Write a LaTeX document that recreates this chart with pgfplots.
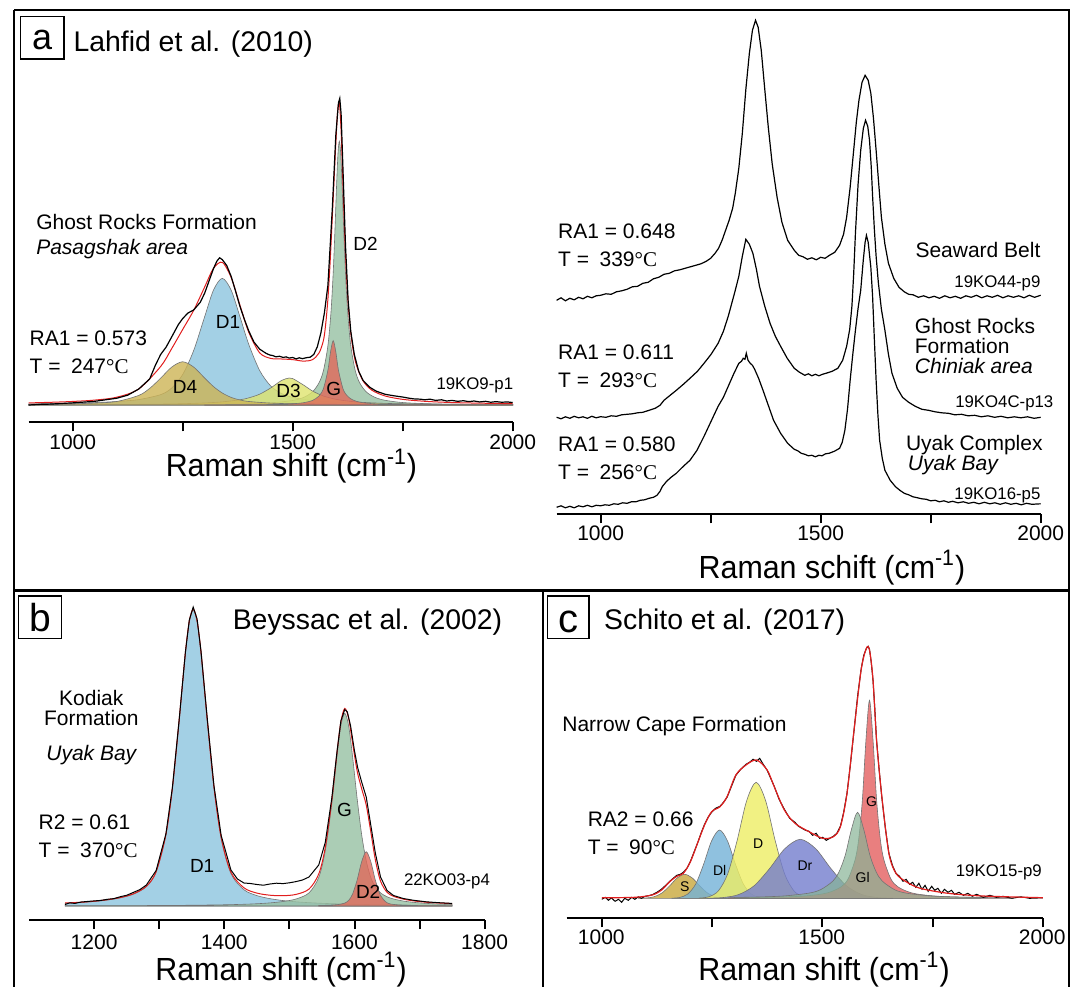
\documentclass[border=0pt]{standalone}
\usepackage{fontspec}
\setmainfont{Liberation Sans}
\newfontfamily\tnr{Liberation Serif}
\usepackage{graphicx}
\usepackage{pgfplots}
\pgfplotsset{compat=1.18}

\definecolor{cDone}{RGB}{140,196,222}
\definecolor{cDfour}{RGB}{205,180,85}
\definecolor{cDthree}{RGB}{222,228,110}
\definecolor{cG}{RGB}{224,105,90}
\definecolor{cDtwo}{RGB}{150,192,162}
\definecolor{cS}{RGB}{200,168,60}
\definecolor{cDl}{RGB}{115,178,215}
\definecolor{cD}{RGB}{238,238,100}
\definecolor{cDr}{RGB}{115,125,205}
\definecolor{cGl}{RGB}{135,180,150}
\definecolor{cGc}{RGB}{228,95,95}
\definecolor{fitred}{RGB}{225,30,30}

\newcommand{\ann}{\fontsize{10.5}{12}\selectfont}
\newcommand{\ttl}{\fontsize{14.2}{16}\selectfont}
\newcommand{\smp}{\fontsize{8.4}{10}\selectfont}
\newcommand{\bnd}{\fontsize{9.5}{11}\selectfont}
\newcommand{\bndc}{\fontsize{7}{8}\selectfont}
\newcommand{\axl}{\fontsize{16}{18}\selectfont}
\newcommand{\dc}{{\tnr °C}}

\pgfplotsset{
  ramanax/.style={scale only axis, clip=false, axis x line=bottom, axis y line=none,
    axis line style={-,line width=1pt,black}, x axis line style={-},
    tick align=outside, major tick length=4.5pt, minor tick length=4.5pt,
    tick style={black,line width=1pt}, xticklabels={}, ytick=\empty},
  band/.style={smooth, draw=black!55, line width=0.3pt, fill opacity=0.8},
}

\begin{document}
\begin{tikzpicture}
%================ panel a left
\begin{axis}[ramanax, at={(14.35pt,281.85pt)}, anchor=south west, width=242pt, height=165.05pt,
  xmin=900, xmax=2000, ymin=-0.0564, ymax=1.02, xtick={1000,1500,2000}, minor xtick={1250,1750}]
\addplot[band, fill=cDone] coordinates {(900,0.0035)(950,0.0045)(1000,0.0058)(1050,0.0079)(1100,0.0114)(1150,0.0177)(1200,0.0339)(1225,0.0554)(1250,0.0995)(1275,0.178)(1300,0.2884)(1320,0.3748)(1340,0.413)(1360,0.3748)(1380,0.2884)(1400,0.1981)(1425,0.1122)(1450,0.0620)(1475,0.0370)(1500,0.0251)(1525,0.0187)(1560,0.0134)(1600,0.0098)(1650,0.0070)(1700,0.0053)(1800,0.0032)(1900,0.0022)(2000,0.0016)} \closedcycle;
\addplot[band, fill=cDtwo] coordinates {(1300,0.0021)(1400,0.0040)(1450,0.0069)(1500,0.0148)(1525,0.0249)(1545,0.0430)(1560,0.0729)(1570,0.1130)(1580,0.1933)(1587,0.3026)(1592,0.43)(1596,0.5695)(1600,0.7265)(1603,0.822)(1606,0.86)(1609,0.822)(1612,0.7265)(1616,0.5695)(1620,0.43)(1625,0.3026)(1632,0.1933)(1642,0.113)(1652,0.0729)(1667,0.043)(1687,0.0249)(1712,0.0148)(1760,0.0070)(1850,0.0028)(2000,0.0011)} \closedcycle;
\addplot[band, fill=cDthree] coordinates {(900,0.0008)(1000,0.0011)(1100,0.0017)(1200,0.0030)(1250,0.0043)(1300,0.0067)(1340,0.0102)(1380,0.0171)(1400,0.0232)(1425,0.0354)(1450,0.0556)(1475,0.0803)(1492,0.088)(1500,0.0862)(1525,0.0647)(1545,0.0456)(1570,0.0292)(1600,0.0181)(1632,0.0118)(1660,0.0085)(1710,0.0053)(1800,0.0027)(1900,0.0016)(2000,0.0010)} \closedcycle;
\addplot[band, fill=cDfour] coordinates {(900,0.0021)(1000,0.0041)(1050,0.0062)(1100,0.0115)(1150,0.0312)(1175,0.0542)(1200,0.0877)(1225,0.1236)(1250,0.141)(1275,0.1236)(1300,0.0877)(1320,0.0601)(1340,0.0391)(1360,0.0249)(1380,0.0164)(1400,0.0115)(1450,0.0062)(1500,0.0041)(1600,0.0023)(1700,0.0013)(1800,0.0009)(2000,0.0005)} \closedcycle;
\addplot[band, fill=cG] coordinates {(1300,0.0004)(1400,0.0010)(1450,0.0017)(1500,0.0041)(1525,0.0076)(1545,0.0149)(1560,0.0297)(1570,0.0543)(1580,0.1134)(1586,0.1731)(1592,0.21)(1598,0.1731)(1604,0.1134)(1614,0.0543)(1622,0.0332)(1632,0.0201)(1645,0.0119)(1660,0.0074)(1680,0.0045)(1710,0.0025)(1750,0.0014)(1800,0.0008)(1900,0.0004)(2000,0.0002)} \closedcycle;
\addplot[fitred, line width=0.5pt, smooth] coordinates {(900,0.0068)(950,0.0088)(1000,0.0116)(1050,0.0160)(1100,0.0254)(1150,0.0521)(1200,0.1258)(1225,0.1840)(1250,0.2464)(1275,0.3088)(1300,0.3850)(1320,0.4457)(1340,0.4653)(1360,0.4162)(1380,0.3260)(1400,0.2378)(1425,0.170)(1450,0.152)(1475,0.150)(1500,0.148)(1525,0.143)(1545,0.148)(1560,0.170)(1570,0.2114)(1575,0.2643)(1580,0.3452)(1585,0.4636)(1590,0.6120)(1594,0.7334)(1598,0.8522)(1602,0.9566)(1606,0.9853)(1610,0.8941)(1614,0.7284)(1618,0.5626)(1622,0.4298)(1627,0.3126)(1632,0.2348)(1638,0.174)(1645,0.1291)(1660,0.0783)(1680,0.0483)(1710,0.0294)(1750,0.0184)(1800,0.0121)(1850,0.0086)(1900,0.0067)(1950,0.0054)(2000,0.0044)};
\addplot[black, line width=0.6pt] coordinates {(900,0.000)(925,0.002)(950,0.003)(975,0.005)(1000,0.007)(1050,0.012)(1100,0.022)(1125,0.032)(1150,0.052)(1175,0.085)(1188,0.130)(1200,0.165)(1212,0.188)(1225,0.222)(1240,0.262)(1250,0.282)(1262,0.300)(1275,0.310)(1290,0.335)(1300,0.365)(1310,0.405)(1320,0.445)(1328,0.470)(1334,0.480)(1340,0.474)(1350,0.455)(1360,0.420)(1370,0.372)(1380,0.322)(1390,0.280)(1400,0.242)(1412,0.205)(1425,0.182)(1440,0.168)(1448,0.163)(1455,0.161)(1462,0.157)(1470,0.159)(1478,0.155)(1485,0.157)(1492,0.153)(1500,0.155)(1508,0.150)(1515,0.154)(1522,0.151)(1530,0.154)(1540,0.156)(1548,0.165)(1556,0.190)(1564,0.235)(1572,0.300)(1580,0.390)(1590,0.640)(1598,0.880)(1604,0.985)(1607,1.000)(1610,0.950)(1614,0.780)(1620,0.520)(1626,0.340)(1632,0.240)(1640,0.165)(1650,0.110)(1660,0.080)(1675,0.058)(1690,0.045)(1710,0.035)(1730,0.030)(1750,0.026)(1765,0.022)(1775,0.020)(1790,0.019)(1800,0.017)(1812,0.019)(1825,0.015)(1838,0.017)(1850,0.013)(1862,0.015)(1875,0.012)(1888,0.014)(1900,0.011)(1912,0.013)(1925,0.010)(1938,0.012)(1950,0.009)(1962,0.011)(1975,0.009)(1988,0.010)(2000,0.008)};
\end{axis}
%================ panel a right
\begin{axis}[ramanax, at={(278.3pt,235.85pt)}, anchor=south west, width=242.05pt, height=252.5pt,
  xmin=900, xmax=2000, ymin=0, ymax=505, xtick={1000,1500,2000}, minor xtick={1250,1750}]
\addplot[black, line width=0.6pt] coordinates {(900,214)(910,216.5)(920,213.5)(930,216)(940,214.5)(950,217)(960,215.5)(970,218)(980,216.5)(990,218.5)(1000,219)(1012,220.5)(1024,220)(1036,222.5)(1048,223.5)(1060,225)(1072,227.5)(1084,228)(1096,231)(1108,232)(1120,235.5)(1132,237)(1144,240)(1156,241)(1168,243.5)(1180,244.5)(1192,246)(1204,247.5)(1216,249)(1228,250.5)(1240,253)(1250,256)(1260,261)(1268,266)(1276,274)(1284,284)(1292,294)(1300,306)(1306,321)(1314,346)(1322,381)(1330,425)(1338,461)(1345,484)(1352,494)(1358,487)(1365,464)(1373,425)(1381,387)(1390,350)(1401,317)(1412,292)(1425,274)(1440,264)(1450,259)(1460,257.5)(1470,255)(1480,256.5)(1490,254.5)(1500,257)(1510,256)(1520,259)(1532,262)(1543,269)(1552,280)(1559,297)(1567,327)(1575,364)(1581,392)(1587,414)(1594,432)(1601,439)(1608,434)(1614,421)(1620,396)(1626,364)(1632,330)(1638,297)(1646,270)(1654,251)(1666,236)(1678,227)(1690,222.5)(1700,220)(1710,219.5)(1722,217)(1734,218.5)(1746,216.5)(1758,218)(1770,216)(1782,218.5)(1794,216.5)(1806,218)(1818,216)(1830,218.5)(1842,217)(1854,219)(1866,216.5)(1878,218.5)(1890,217)(1902,219)(1914,216.5)(1926,218.5)(1938,217)(1950,218.5)(1962,216.5)(1974,219)(1986,217)(2000,219)};
\addplot[black, line width=0.6pt] coordinates {(900,97)(910,95.5)(920,97.5)(930,96)(940,98)(950,96.5)(960,97.5)(970,96)(980,98)(990,96.5)(1000,97.6)(1012,97)(1024,98.5)(1036,98)(1048,99.5)(1060,100)(1072,100.5)(1084,101.5)(1096,102)(1110,104)(1124,106)(1135,109)(1144,114)(1158,119)(1172,124)(1188,130)(1203,136)(1220,143)(1235,151)(1251,160)(1267,171)(1279,183)(1290,198)(1298,211)(1306,224)(1314,238)(1322,258)(1330,275)(1338,270)(1346,261)(1354,245)(1361,228)(1373,208)(1385,191)(1397,178)(1409,168)(1424,156)(1440,146)(1452,142)(1464,139)(1472,140.5)(1480,138.5)(1488,140)(1496,138.5)(1504,140)(1512,141)(1526,143)(1539,146)(1550,154)(1559,168)(1566,185)(1571,208)(1575,240)(1579,281)(1585,330)(1591,364)(1597,386)(1602,394)(1607,388)(1611,374)(1615,347)(1618,318)(1622,285)(1626,258)(1631,232)(1638,205)(1646,184)(1654,160)(1662,141)(1674,126)(1686,117)(1700,112)(1715,108)(1730,105)(1745,104)(1760,102.5)(1775,101.5)(1790,101)(1805,99.5)(1820,100)(1835,98.5)(1850,99)(1865,97.5)(1880,98.5)(1895,97)(1910,98)(1925,96.5)(1940,97.5)(1955,96.5)(1970,97.5)(1985,96)(2000,97)};
\addplot[black, line width=0.6pt] coordinates {(900,7)(910,8.5)(920,6.5)(930,8)(940,6.5)(950,8.5)(960,7.5)(970,9)(980,7.5)(990,9)(1000,8.5)(1010,9.5)(1020,9)(1030,10.5)(1040,10)(1050,11.5)(1060,11)(1070,12.5)(1080,12.5)(1090,14)(1100,14.5)(1110,16)(1120,17)(1128,19)(1135,23)(1140,27.6)(1150,33)(1160,37)(1172,41)(1188,48)(1203,54)(1219,64)(1235,78)(1251,93)(1267,108)(1279,117)(1290,128)(1302,140)(1314,151)(1320,153)(1324,156)(1328,155)(1331,161)(1335,154)(1340,151)(1345,149)(1350,145)(1359,136)(1369,124)(1381,109)(1393,94)(1409,81)(1425,71)(1440,65)(1448,63.5)(1456,61)(1464,60)(1472,58.5)(1480,59)(1488,57.5)(1496,59)(1503,58.5)(1511,60.5)(1519,61)(1531,63)(1543,66)(1549,72)(1555,84)(1561,105)(1567,134)(1573,160)(1579,184)(1585,206)(1591,224)(1597,255)(1601,272)(1604,279)(1608,272)(1614,247)(1618,218)(1622,175)(1626,134)(1630,100)(1634,74)(1640,56)(1646,44)(1658,34)(1670,27.6)(1680,24)(1690,21)(1700,19.5)(1709,17.6)(1720,16.5)(1730,15.5)(1740,15)(1750,13.5)(1760,14)(1770,12.5)(1780,13.5)(1790,12)(1800,13)(1812,11.5)(1824,12.5)(1836,11)(1848,12)(1860,10.5)(1872,12)(1884,10.5)(1896,11.5)(1908,10)(1920,11.5)(1932,10)(1944,11)(1956,9.5)(1968,11)(1980,10)(2000,10.5)};
\end{axis}
%================ panel b
\begin{axis}[ramanax, at={(14.65pt,33pt)}, anchor=south west, width=227.65pt, height=157pt,
  xmin=1100, xmax=1800, ymin=-14, ymax=300, xtick={1200,1400,1600,1800}, minor xtick={1300,1500,1700}]
\addplot[band, fill=cDone] coordinates {(1155,2.73)(1180,3.56)(1200,4.53)(1220,5.94)(1240,8.13)(1260,11.8)(1280,19.3)(1295,33.9)(1310,70.9)(1320,117.4)(1330,182.4)(1340,252.6)(1346,284.1)(1352,296)(1358,284.1)(1364,252.6)(1374,182.4)(1384,117.4)(1395,67.4)(1410,32.4)(1430,16.3)(1450,10.4)(1470,7.36)(1490,5.46)(1510,4.2)(1530,3.33)(1555,2.57)(1585,1.96)(1618,1.51)(1650,1.21)(1690,0.94)(1750,0.68)} \closedcycle;
\addplot[band, fill=cDtwo] coordinates {(1155,0.23)(1200,0.29)(1250,0.38)(1300,0.52)(1350,0.77)(1400,1.23)(1430,1.74)(1450,2.28)(1470,3.11)(1490,4.49)(1510,7.01)(1530,13.1)(1545,28.6)(1555,55.1)(1565,101.9)(1573,149.5)(1579,180.1)(1585,192.7)(1591,180.1)(1597,149.5)(1604,107.6)(1611,71.3)(1618,45.2)(1625,28.6)(1632,19.0)(1640,13.1)(1650,9.25)(1660,7.01)(1675,4.97)(1690,3.71)(1710,2.65)(1730,1.98)(1750,1.54)} \closedcycle;
\addplot[band, fill=cG] coordinates {(1545,0.54)(1555,0.71)(1565,0.99)(1573,1.35)(1579,1.86)(1585,2.94)(1591,5.64)(1597,11.9)(1604,25.9)(1611,44.4)(1618,54.3)(1625,44.4)(1632,25.9)(1640,10.5)(1650,3.23)(1660,1.57)(1675,0.87)(1690,0.55)(1710,0.34)(1750,0.17)} \closedcycle;
\addplot[fitred, line width=0.5pt, smooth] coordinates {(1155,3.0)(1180,3.8)(1200,4.8)(1220,6.3)(1240,8.5)(1260,12.2)(1280,19.8)(1295,34.4)(1310,71.5)(1320,118)(1330,183.1)(1340,253.3)(1346,284.8)(1352,296.8)(1358,284.9)(1364,253.5)(1374,183.3)(1384,118.5)(1395,68.7)(1410,33.9)(1430,18.2)(1450,12.9)(1470,10.8)(1490,10.3)(1510,11.6)(1530,16.9)(1545,32)(1555,58.4)(1565,105.2)(1573,153)(1579,184)(1585,197.6)(1591,187.6)(1597,163.2)(1604,135.2)(1611,117.3)(1618,101)(1625,74.4)(1632,46.3)(1640,24.9)(1650,13.7)(1660,9.7)(1675,6.9)(1690,5.2)(1710,3.8)(1730,3.0)(1750,2.4)};
\addplot[black, line width=0.5pt] coordinates {(1155,1.5)(1162,3.2)(1170,2.6)(1180,4.0)(1190,4.6)(1200,5.1)(1210,5.6)(1220,6.7)(1230,7.4)(1240,9.3)(1250,10.8)(1260,13.6)(1270,16.4)(1280,21)(1295,35.5)(1310,72)(1320,118.5)(1330,183.5)(1340,254)(1346,286)(1352,299)(1358,287)(1364,255)(1374,185)(1384,120)(1395,70.5)(1410,36)(1420,27)(1430,23)(1440,22.5)(1450,21.5)(1460,20.8)(1470,22)(1480,22.8)(1490,22.4)(1500,23.2)(1510,24.4)(1520,26)(1530,29)(1545,41)(1555,63.5)(1565,107.5)(1573,154)(1579,185)(1585,196.5)(1589,194)(1594,180)(1600,155)(1605,138)(1611,124)(1618,109)(1625,81)(1632,53)(1640,29)(1650,15.5)(1660,10.5)(1675,7.5)(1690,5.8)(1710,4.2)(1730,3.3)(1750,2.6)};
\end{axis}
%================ panel c
\begin{axis}[ramanax, at={(283.25pt,33.85pt)}, anchor=south west, width=238.15pt, height=140pt,
  xmin=920, xmax=2000, ymin=-20, ymax=260, xtick={1000,1500,2000}, minor xtick={1250,1750}]
\addplot[band, fill=cS] coordinates {(1083,0.05)(1100.5,0.31)(1118,1.5)(1135.5,5.04)(1153,12)(1170.5,20.2)(1188,24)(1205.5,20.2)(1223,12)(1240.5,5.04)(1258,1.5)(1275.5,0.31)(1293,0.05)} \closedcycle;
\addplot[band, fill=cDl] coordinates {(1159,0.13)(1177,0.89)(1195,4.27)(1213,14.3)(1231,34.15)(1249,57.4)(1267,68.3)(1285,57.4)(1303,34.15)(1321,14.3)(1339,4.27)(1357,0.89)(1375,0.13)} \closedcycle;
\addplot[band, fill=cD] coordinates {(1221,0.23)(1242.5,1.52)(1264,7.25)(1285.5,24.4)(1307,58)(1328.5,97.6)(1350,116)(1371.5,97.6)(1393,58)(1414.5,24.4)(1436,7.25)(1457.5,1.52)(1479,0.23)} \closedcycle;
\addplot[band, fill=cDr] coordinates {(1240,0.12)(1275,0.77)(1310,3.69)(1345,12.4)(1380,29.5)(1415,49.6)(1450,59)(1485,49.6)(1520,29.5)(1555,12.4)(1590,3.69)(1625,0.77)(1660,0.12)} \closedcycle;
\addplot[band, fill=cGc] coordinates {(1287,0.49)(1399,1.17)(1463,2.41)(1511,5.35)(1543,11.6)(1559,19.8)(1575,39.6)(1583,60.9)(1591,99)(1599,158.4)(1607,198)(1615,158.4)(1623,99)(1631,60.9)(1639,39.6)(1655,19.8)(1671,11.6)(1703,5.35)(1751,2.41)(1815,1.17)(1927,0.49)} \closedcycle;
\addplot[band, fill=cGl, fill opacity=0.7] coordinates {(1300,0.85)(1356,1.32)(1412,2.32)(1468,5.06)(1496,8.6)(1524,17.2)(1538,26.5)(1552,43)(1566,68.8)(1580,86)(1594,68.8)(1608,43)(1622,26.5)(1636,17.2)(1664,8.6)(1692,5.06)(1748,2.32)(1804,1.32)(1860,0.85)} \closedcycle;
\addplot[black, line width=0.5pt] coordinates {(1000,-1)(1008,1)(1015,-2)(1022,0.5)(1030,-3)(1038,-1)(1045,-4)(1052,0)(1060,-2)(1068,1)(1075,-1)(1083,1.5)(1090,0)(1098,2)(1105,2.5)(1114,3.5)(1125,6)(1135,9)(1145,13)(1154,17)(1162,20)(1170,23)(1178,24)(1185,26)(1193,30)(1201,37)(1209,46)(1217,55)(1225,65)(1233,74)(1241,81)(1249,86)(1258,90)(1268,92)(1276,96)(1284,101)(1294,112)(1304,123)(1315,129)(1327,134)(1335,136)(1343,139)(1351,137)(1358,140)(1366,134)(1375,128)(1383,120)(1391,112)(1402,99)(1414,89)(1426,80)(1438,76)(1446,72)(1454,70)(1462,68)(1470,67)(1478,63)(1486,65)(1494,60)(1501,61)(1509,58)(1517,60)(1525,62)(1533,65)(1541,72)(1548,85)(1556,105)(1564,135)(1572,168)(1580,202)(1588,229)(1594,243)(1600,250)(1604,252)(1607,249)(1611,236)(1615,218)(1619,190)(1623,158)(1629,128)(1635,101)(1643,70)(1651,45)(1659,33)(1667,25)(1675,22)(1683,17)(1690,19)(1698,14)(1705,16)(1712,11)(1719,15)(1726,9)(1733,13)(1740,7)(1748,12)(1755,8)(1762,10)(1770,5)(1777,9)(1785,6)(1793,8)(1800,4)(1810,6)(1820,3)(1830,5)(1840,2)(1850,4)(1865,1)(1880,3)(1895,1)(1910,2)(1930,0)(1950,1.5)(1970,0)(2000,0.5)};
\addplot[fitred, line width=0.6pt, smooth] coordinates {(1000,0.5)(1075,1)(1114,3.3)(1135,8)(1154,16.6)(1170,22)(1185,25)(1201,36.6)(1217,55)(1233,73.3)(1249,86.6)(1268,91.6)(1284,101.6)(1304,123.3)(1327,133.3)(1351,138.3)(1375,128.3)(1391,111.6)(1414,88.3)(1438,75)(1470,66.6)(1501,60)(1525,61.6)(1541,71.6)(1556,104.9)(1572,168.3)(1588,228.3)(1600,250)(1607,248.3)(1615,218.3)(1623,158.3)(1635,101.6)(1651,45)(1667,25)(1690,16.6)(1722,10)(1785,5)(1864,2.3)(2000,0.6)};
\end{axis}
%================ frames and text (pixel coordinates, y down)
\begin{scope}[x=0.5pt,y=-0.5pt,shift={(0pt,493pt)}]
\path[use as bounding box] (0,0) rectangle (1075,986);
\draw[line width=1.1pt] (14.3,10) -- (1069,10) -- (1069,1000);
\draw[line width=1.1pt] (14.3,10) -- (14.3,1000);
\draw[line width=1.2pt] (14.3,590.5) -- (1069,590.5);
\draw[line width=1.1pt] (542.7,590.5) -- (542.7,1000);
% letter boxes
\draw[line width=0.75pt] (20.7,16.7) rectangle (63.8,59);
\node[anchor=base, inner sep=0pt, font=\fontsize{18}{20}\selectfont] at (42.2,50) {a};
\draw[line width=0.75pt] (18.7,596) rectangle (61.3,638.3);
\node[anchor=base, inner sep=0pt, font=\fontsize{19.5}{20}\selectfont] at (40,631.7) {b};
\draw[line width=0.75pt] (547.7,596) rectangle (589,638.3);
\node[anchor=base, inner sep=0pt, font=\fontsize{20}{20}\selectfont] at (568.4,632) {c};
% panel a left
\node[anchor=base west, inner sep=0pt, font=\ttl] at (73.1,51.7) {Lahfid et al. (2010)};
\node[anchor=base west, inner sep=0pt, font=\ann] at (35.9,229.3) {Ghost Rocks Formation};
\node[anchor=base west, inner sep=0pt, font=\ann\itshape] at (35.9,255) {Pasagshak area};
\node[anchor=base west, inner sep=0pt, font=\ann] at (29.3,346) {RA1 = 0.573};
\node[anchor=base west, inner sep=0pt, font=\ann] at (29.3,374) {T =\enspace 247\dc};
\node[anchor=base west, inner sep=0pt, font=\bnd] at (353,250.7) {D2};
\node[anchor=base west, inner sep=0pt, font=\bnd] at (215.5,329) {D1};
\node[anchor=base west, inner sep=0pt, font=\bnd] at (172.4,394) {D4};
\node[anchor=base west, inner sep=0pt, font=\bnd] at (275.9,398) {D3};
\node[anchor=base west, inner sep=0pt, font=\bnd] at (325.9,395.7) {G};
\node[anchor=base east, inner sep=0pt, font=\smp] at (513.5,390) {19KO9-p1};
\foreach \xx/\tt in {72.7/1000,292.7/1500,512.7/2000}
  \node[anchor=base, inner sep=0pt, font=\ann] at (\xx,449.2) {\tt};
\node[anchor=base, inner sep=0pt] at (291.4,476.7) {\scalebox{0.95}[1]{\axl Raman shift (cm\textsuperscript{-1})}};
% panel a right
\node[anchor=base west, inner sep=0pt, font=\ann] at (557.8,238.3) {RA1 = 0.648};
\node[anchor=base west, inner sep=0pt, font=\ann] at (557.8,266.7) {T =\enspace 339\dc};
\node[anchor=base east, inner sep=0pt, font=\ann] at (1040.8,257.3) {Seaward Belt};
\node[anchor=base east, inner sep=0pt, font=\smp] at (1040.8,287.3) {19KO44-p9};
\node[anchor=base west, inner sep=0pt, font=\ann] at (914.5,333.3) {Ghost Rocks};
\node[anchor=base west, inner sep=0pt, font=\ann] at (914.5,353.3) {Formation};
\node[anchor=base west, inner sep=0pt, font=\ann\itshape] at (914.5,373.3) {Chiniak area};
\node[anchor=base west, inner sep=0pt, font=\ann] at (557.8,359.3) {RA1 = 0.611};
\node[anchor=base west, inner sep=0pt, font=\ann] at (557.8,387.3) {T =\enspace 293\dc};
\node[anchor=base east, inner sep=0pt, font=\smp] at (1053.7,407.7) {19KO4C-p13};
\node[anchor=base west, inner sep=0pt, font=\ann] at (557.8,451.7) {RA1 = 0.580};
\node[anchor=base west, inner sep=0pt, font=\ann] at (557.8,480) {T =\enspace 256\dc};
\node[anchor=base east, inner sep=0pt, font=\ann] at (1043,450.5) {Uyak Complex};
\node[anchor=base west, inner sep=0pt, font=\ann\itshape] at (907.5,471) {Uyak Bay};
\node[anchor=base east, inner sep=0pt, font=\smp] at (1040.8,499) {19KO16-p5};
\foreach \xx/\tt in {600.6/1000,820.65/1500,1040.7/2000}
  \node[anchor=base, inner sep=0pt, font=\ann] at (\xx,540.8) {\tt};
\node[anchor=base, inner sep=0pt] at (831.9,578.3) {\scalebox{0.95}[1]{\axl Raman schift (cm\textsuperscript{-1})}};
% panel b
\node[anchor=base west, inner sep=0pt, font=\ttl] at (232.4,629.3) {Beyssac et al. (2002)};
\node[anchor=base, inner sep=0pt, font=\ann] at (91.3,705.7) {Kodiak};
\node[anchor=base, inner sep=0pt, font=\ann] at (91.3,725.7) {Formation};
\node[anchor=base, inner sep=0pt, font=\ann\itshape] at (91.3,760) {Uyak Bay};
\node[anchor=base west, inner sep=0pt, font=\ann] at (38.3,829) {R2 = 0.61};
\node[anchor=base west, inner sep=0pt, font=\ann] at (38.3,857.3) {T =\enspace 370\dc};
\node[anchor=base west, inner sep=0pt, font=\bnd] at (189.6,872.3) {D1};
\node[anchor=base west, inner sep=0pt, font=\bnd] at (336.8,816.7) {G};
\node[anchor=base west, inner sep=0pt, font=\bnd] at (355.6,898.3) {D2};
\node[anchor=base west, inner sep=0pt, font=\smp] at (403.6,885) {22KO03-p4};
\foreach \xx/\tt in {94.1/1200,224.3/1400,354.4/1600,484.6/1800}
  \node[anchor=base, inner sep=0pt, font=\ann] at (\xx,949.2) {\tt};
\node[anchor=base, inner sep=0pt] at (281,980) {\scalebox{0.95}[1]{\axl Raman shift (cm\textsuperscript{-1})}};
% panel c
\node[anchor=base west, inner sep=0pt, font=\ttl] at (603.8,629.3) {Schito et al. (2017)};
\node[anchor=base west, inner sep=0pt, font=\ann] at (562,731.7) {Narrow Cape Formation};
\node[anchor=base west, inner sep=0pt, font=\ann] at (587.4,826.7) {RA2 = 0.66};
\node[anchor=base west, inner sep=0pt, font=\ann] at (587.4,854) {T =\enspace 90\dc};
\node[anchor=base west, inner sep=0pt, font=\bndc] at (865.8,806.7) {G};
\node[anchor=base west, inner sep=0pt, font=\bndc] at (752.7,848.3) {D};
\node[anchor=base west, inner sep=0pt, font=\bndc] at (712.7,875) {Dl};
\node[anchor=base west, inner sep=0pt, font=\bndc] at (679.6,891.7) {S};
\node[anchor=base west, inner sep=0pt, font=\bndc] at (797.2,870) {Dr};
\node[anchor=base west, inner sep=0pt, font=\bndc] at (855.3,882.7) {Gl};
\node[anchor=base east, inner sep=0pt, font=\smp] at (1042.2,876) {19KO15-p9};
\foreach \xx/\tt in {601.3/1000,821.8/1500,1042.2/2000}
  \node[anchor=base, inner sep=0pt, font=\ann] at (\xx,944.2) {\tt};
\node[anchor=base, inner sep=0pt] at (824,980) {\scalebox{0.95}[1]{\axl Raman shift (cm\textsuperscript{-1})}};
\end{scope}
\end{tikzpicture}
\end{document}
